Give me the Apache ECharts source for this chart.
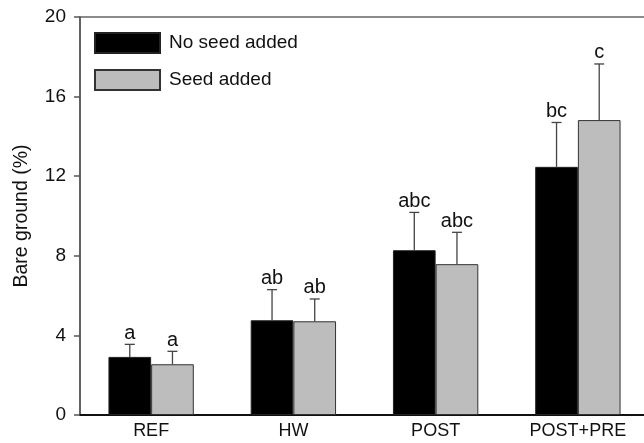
<!DOCTYPE html>
<html><head><meta charset="utf-8">
<script src="https://cdn.jsdelivr.net/npm/echarts@6/dist/echarts.min.js"></script>
<style>html,body{margin:0;padding:0;background:#fff;overflow:hidden}#c{width:649px;height:443px}</style>
</head><body><div id="c"></div>
<script>
var categories = ['REF', 'HW', 'POST', 'POST+PRE'];
var noSeed = [2.92, 4.76, 8.28, 12.47];
var seed = [2.55, 4.71, 7.58, 14.82];
var noSeedErr = [0.63, 1.54, 1.9, 2.23];
var seedErr = [0.65, 1.12, 1.6, 2.82];
var noSeedLetters = ['a', 'ab', 'abc', 'bc'];
var seedLetters = ['a', 'ab', 'abc', 'c'];
var yTicks = [0, 4, 8, 12, 16, 20];

var chart = echarts.init(document.getElementById('c'));
var FONT = 'Liberation Sans, Arial, sans-serif';

function errSeries(name, vals, errs, letters, side) {
  return {
    type: 'custom', name: name + ' err', silent: true, z: 5,
    data: vals.map(function (v, i) { return [i, v, v + errs[i]]; }),
    renderItem: function (params, api) {
      var i = api.value(0);
      var cw = api.size([1, 0])[0];
      var base = api.coord([i, api.value(1)]);
      var top = api.coord([i, api.value(2)]);
      var x = base[0] + side * cw * 0.15;
      var cap = 5;
      return {
        type: 'group', children: [
          { type: 'line', shape: { x1: x, y1: base[1], x2: x, y2: top[1] }, style: { stroke: '#444', lineWidth: 1.3 } },
          { type: 'line', shape: { x1: x - cap, y1: top[1], x2: x + cap, y2: top[1] }, style: { stroke: '#444', lineWidth: 1.3 } },
          { type: 'text', x: x, y: top[1] - 1, style: { text: letters[i], fill: '#111', font: '20px ' + FONT, align: 'center', verticalAlign: 'bottom' } }
        ]
      };
    }
  };
}

chart.setOption({
  animation: false,
  grid: { left: 80, right: 0, top: 17, bottom: 28, show: true, borderColor: '#666', borderWidth: 1.5 },
  legend: {
    orient: 'vertical', left: 94, top: 32, padding: 0, itemWidth: 65, itemHeight: 20, itemGap: 15,
    icon: 'rect',
    data: ['No seed added', 'Seed added'],
    textStyle: { fontSize: 19, color: '#111', fontFamily: FONT, padding: [0, 0, 0, 4] }
  },
  xAxis: {
    type: 'category', data: categories,
    axisLine: { lineStyle: { color: '#111', width: 2 } },
    axisTick: { show: false },
    axisLabel: { fontSize: 18, color: '#111', fontFamily: FONT, margin: 7 }
  },
  yAxis: {
    type: 'value', min: 0, max: 20, interval: 4,
    name: 'Bare ground (%)', nameLocation: 'middle', nameGap: 48,
    nameTextStyle: { fontSize: 19.5, color: '#111', fontFamily: FONT },
    axisLine: { show: true, lineStyle: { color: '#555', width: 1.5 } },
    axisTick: { show: true, length: 6, lineStyle: { color: '#555', width: 1.5 } },
    axisLabel: { fontSize: 19, color: '#111', fontFamily: FONT, margin: 14,
      formatter: function (v) { return yTicks.indexOf(v) >= 0 ? String(v) : ''; } },
    splitLine: { show: false }
  },
  series: [
    { name: 'No seed added', type: 'bar', data: noSeed, barGap: '0%', barCategoryGap: '40%',
      itemStyle: { color: '#000', borderColor: '#222', borderWidth: 1 } },
    { name: 'Seed added', type: 'bar', data: seed, barGap: '0%', barCategoryGap: '40%',
      itemStyle: { color: '#bdbdbd', borderColor: '#333', borderWidth: 1 } },
    errSeries('No seed added', noSeed, noSeedErr, noSeedLetters, -1),
    errSeries('Seed added', seed, seedErr, seedLetters, 1)
  ]
});
</script></body></html>
